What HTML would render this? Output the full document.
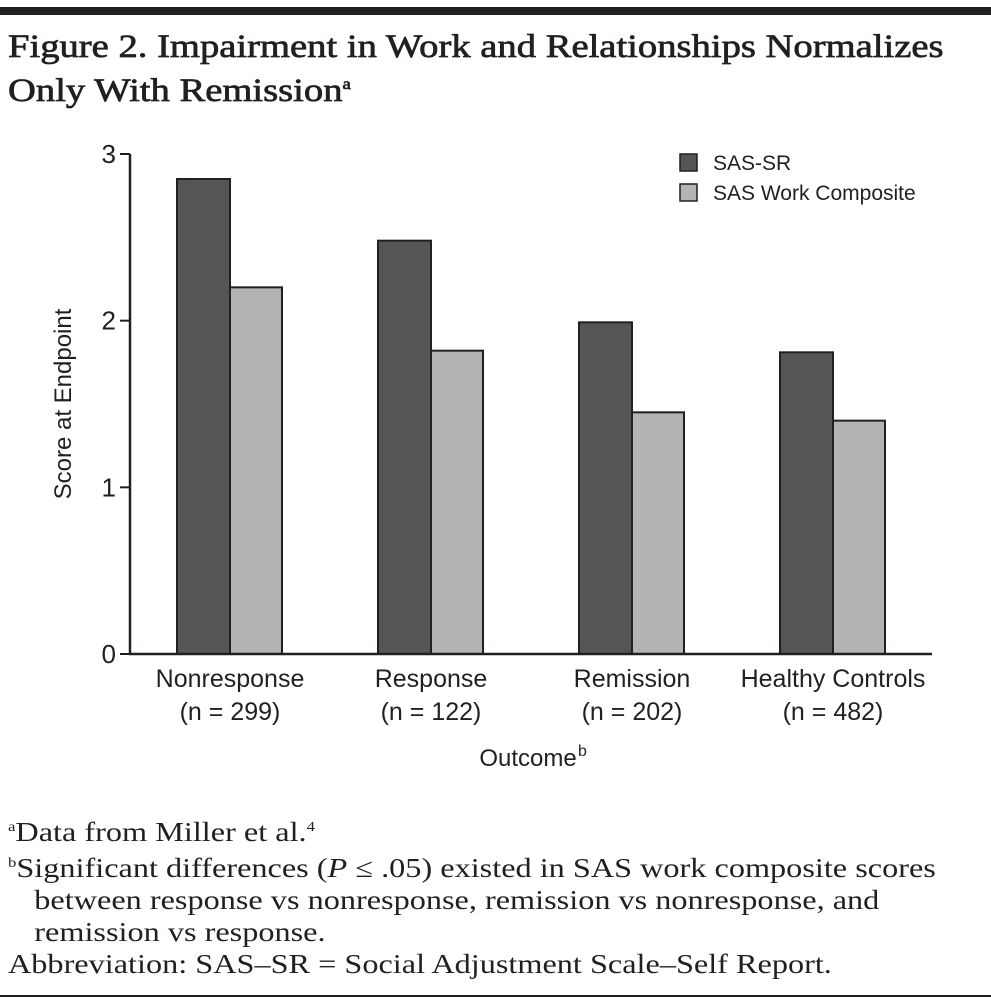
<!DOCTYPE html>
<html><head><meta charset="utf-8"><style>
body{margin:0;width:991px;height:1005px;background:#fff;overflow:hidden;position:relative;font-family:"Liberation Serif",serif;color:#231f20}
.abs{position:absolute}
</style></head><body>
<div class="abs" style="left:0;top:7px;width:991px;height:8px;background:#231f20"></div>
<div class="abs" style="left:8px;top:28px;font-size:33px;line-height:38px;width:820px;-webkit-text-stroke:0.7px #231f20;transform:scaleX(1.17);transform-origin:0 0;white-space:nowrap">Figure 2. Impairment in Work and Relationships Normalizes<br>Only With Remission<sup style="font-size:16px">a</sup></div>
<svg class="abs" style="left:0;top:0" width="991" height="800" id="chart" font-family="Liberation Sans, sans-serif"></svg>
<div class="abs" style="left:8px;top:812px;font-size:27px;line-height:32px;width:790px;white-space:nowrap;transform:scaleX(1.195);transform-origin:0 0">
<div><sup style="font-size:14px">a</sup>Data from Miller et al.<sup style="font-size:14px">4</sup></div>
<div><sup style="font-size:14px">b</sup>Significant differences (<i>P</i> ≤ .05) existed in SAS work composite scores<br><span style="padding-left:22px">between response vs nonresponse, remission vs nonresponse, and</span><br><span style="padding-left:22px">remission vs response.</span></div>
<div>Abbreviation: SAS–SR = Social Adjustment Scale–Self Report.</div>
</div>
<div class="abs" style="left:0;top:995px;width:991px;height:2px;background:#231f20"></div>
<script>
const categories=["Nonresponse","Response","Remission","Healthy Controls"];
const nLabels=["(n = 299)","(n = 122)","(n = 202)","(n = 482)"];
const sasSR=[2.85,2.48,1.99,1.81];
const sasWork=[2.2,1.82,1.45,1.4];
const yTicks=[0,1,2,3];
const svg=document.getElementById('chart');
const NS='http://www.w3.org/2000/svg';
const x0=130,x1=932,y0=654,yTop=154,yMax=3;
const y=v=>y0-(v/yMax)*(y0-yTop);
const cx=i=>230+i*201;
function mk(t,a,txt){const e=document.createElementNS(NS,t);for(const k in a)e.setAttribute(k,a[k]);if(txt!==undefined)e.textContent=txt;svg.appendChild(e);return e;}
categories.forEach((c,i)=>{
 let b=mk('rect',{x:cx(i)-53,y:y(sasSR[i]),width:53,height:y0-y(sasSR[i]),fill:'#555',stroke:'#231f20','stroke-width':2});
 
 let b2=mk('rect',{x:cx(i),y:y(sasWork[i]),width:52,height:y0-y(sasWork[i]),fill:'#b3b3b3',stroke:'#231f20','stroke-width':2});
 
 let t=mk('text',{x:cx(i),y:687,'text-anchor':'middle','font-size':25,fill:'#231f20'},c);
 
 let t2=mk('text',{x:cx(i),y:720,'text-anchor':'middle','font-size':25,fill:'#231f20'},nLabels[i]);
 
});
let ya=mk('path',{d:`M${x0} ${yTop}V${y0}H${x1}`,stroke:'#231f20','stroke-width':2.5,fill:'none'});

yTicks.forEach(v=>{
 let l=mk('line',{x1:x0-10,x2:x0,y1:y(v),y2:y(v),stroke:'#231f20','stroke-width':2});
 
 let t=mk('text',{x:x0-14,y:y(v)+9,'text-anchor':'end','font-size':26,fill:'#231f20'},v);
 
});
let yt=mk('text',{transform:'translate(71,404) rotate(-90)','text-anchor':'middle','font-size':24,fill:'#231f20'},'Score at Endpoint');

let xt=mk('text',{x:528,y:766,'text-anchor':'middle','font-size':24,fill:'#231f20'},'Outcome');

let xs=mk('text',{x:578,y:756,'font-size':16,fill:'#231f20'},'b');

[['SAS-SR','#555',163],['SAS Work Composite','#b3b3b3',193]].forEach(([n,f,yy])=>{
 let r=mk('rect',{x:680,y:yy-9,width:17,height:17,fill:f,stroke:'#231f20','stroke-width':1.5});
 
 let t=mk('text',{x:713,y:yy+7,'font-size':21,fill:'#231f20'},n);
 
});
</script>
</body></html>
